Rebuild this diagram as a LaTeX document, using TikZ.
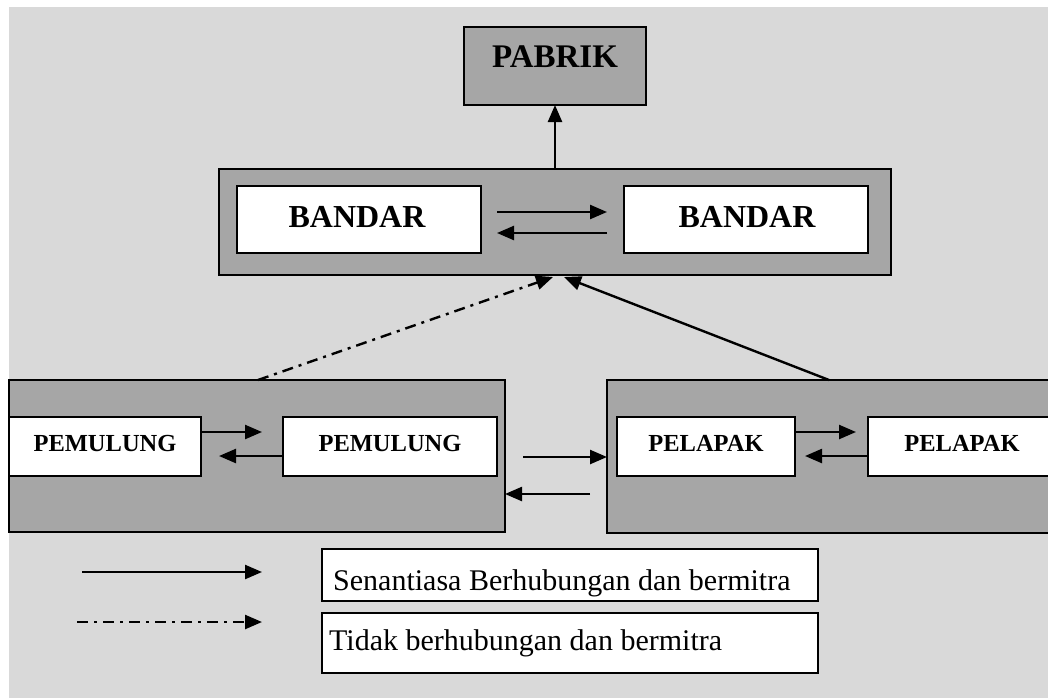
\documentclass[tikz,border=0pt]{standalone}
\usepackage{fontspec}
\setmainfont{Liberation Serif}
\usetikzlibrary{arrows.meta}
\definecolor{bg}{HTML}{D9D9D9}
\definecolor{grp}{HTML}{A6A6A6}
\tikzset{
  groupbox/.style={draw=black, line width=1.8pt, fill=grp, anchor=north west, inner sep=0pt, outer sep=0pt},
  whitebox/.style={draw=black, line width=1.8pt, fill=white, anchor=north west, inner sep=0pt, outer sep=0pt},
  biglab/.style={inner sep=0pt, font=\fontsize{32}{32}\selectfont\bfseries},
  smalllab/.style={inner sep=0pt, font=\fontsize{24.5}{24.5}\selectfont\bfseries},
  legtext/.style={anchor=base west, inner sep=0pt, font=\fontsize{30}{30}\selectfont},
  arr/.style={line width=2.4pt, -{Triangle[length=17pt,width=14pt]}},
  dasharr/.style={arr, dash pattern=on 11pt off 6pt on 3pt off 6pt},
}
\begin{document}
\begin{tikzpicture}[x=1pt,y=-1pt]
\path[use as bounding box] (0,0) rectangle (1048,697);
\clip (0,0) rectangle (1048,697);
\fill[bg] (9,7) rectangle (1060,710);

% PABRIK
\node[groupbox, minimum width=182pt, minimum height=78pt] (pabrik) at (464,27) {};
\node[biglab, font=\fontsize{33}{33}\selectfont\bfseries] (pabriktxt) at (555,57) {PABRIK};

% BANDAR group
\node[groupbox, minimum width=672pt, minimum height=106pt] (gband) at (219,169) {};
\node[whitebox, minimum width=244pt, minimum height=67pt] (band1) at (237,186) {};
\node[whitebox, minimum width=244pt, minimum height=67pt] (band2) at (624,186) {};
\node[biglab] (band1txt) at (357,217) {BANDAR};
\node[biglab] (band2txt) at (747,217) {BANDAR};

% PEMULUNG group
\node[groupbox, minimum width=496pt, minimum height=152pt] (gpem) at (9,380) {};
\node[whitebox, minimum width=192pt, minimum height=59pt] (pem1) at (9,417) {};
\node[whitebox, minimum width=214pt, minimum height=59pt] (pem2) at (283,417) {};
\node[smalllab] (pem1txt) at (105,443) {PEMULUNG};
\node[smalllab] (pem2txt) at (390,443) {PEMULUNG};

% PELAPAK group
\node[groupbox, minimum width=460pt, minimum height=153pt] (gpel) at (607,380) {};
\node[whitebox, minimum width=178pt, minimum height=59pt] (pel1) at (617,417) {};
\node[whitebox, minimum width=200pt, minimum height=59pt] (pel2) at (868,417) {};
\node[smalllab] (pel1txt) at (706,443) {PELAPAK};
\node[smalllab] (pel2txt) at (962,443) {PELAPAK};

% free ends
\coordinate (tipA) at (553,277);
\coordinate (tipB) at (564,277);

% connectors
\draw[arr] (gband.north -| pabrik.south) -- (pabrik.south);
\draw[arr] (band1.east |- 0,212) ++(16,0) -- (607,212);
\draw[arr] (band2.west |- 0,233) ++(-17,0) -- (497,233);
\draw[arr] (pem1.east |- 0,432) -- (262,432);
\draw[arr] (pem2.west |- 0,456) -- (219,456);
\draw[arr] (pel1.east |- 0,432) -- (856,432);
\draw[arr] (pel2.west |- 0,456) -- (805,456);
\draw[arr] (523,457) -- (gpel.west |- 0,457);
\draw[arr] (590,494) -- (gpem.east |- 0,494);
\draw[dasharr] (gpem.north west -| 258,0) -- (tipA);
\draw[arr] (gpel.north west -| 829,0) -- (tipB);

% legend
\draw[arr] (82,572) -- (262,572);
\draw[dasharr] (77,622) -- (262,622);
\node[whitebox, minimum width=496pt, minimum height=52pt] (leg1) at (322,549) {};
\node[whitebox, minimum width=496pt, minimum height=60pt] (leg2) at (322,613) {};
\node[legtext] (leg1txt) at (333,590) {Senantiasa Berhubungan dan bermitra};
\node[legtext] (leg2txt) at (329,650) {Tidak berhubungan dan bermitra};
\end{tikzpicture}
\end{document}
